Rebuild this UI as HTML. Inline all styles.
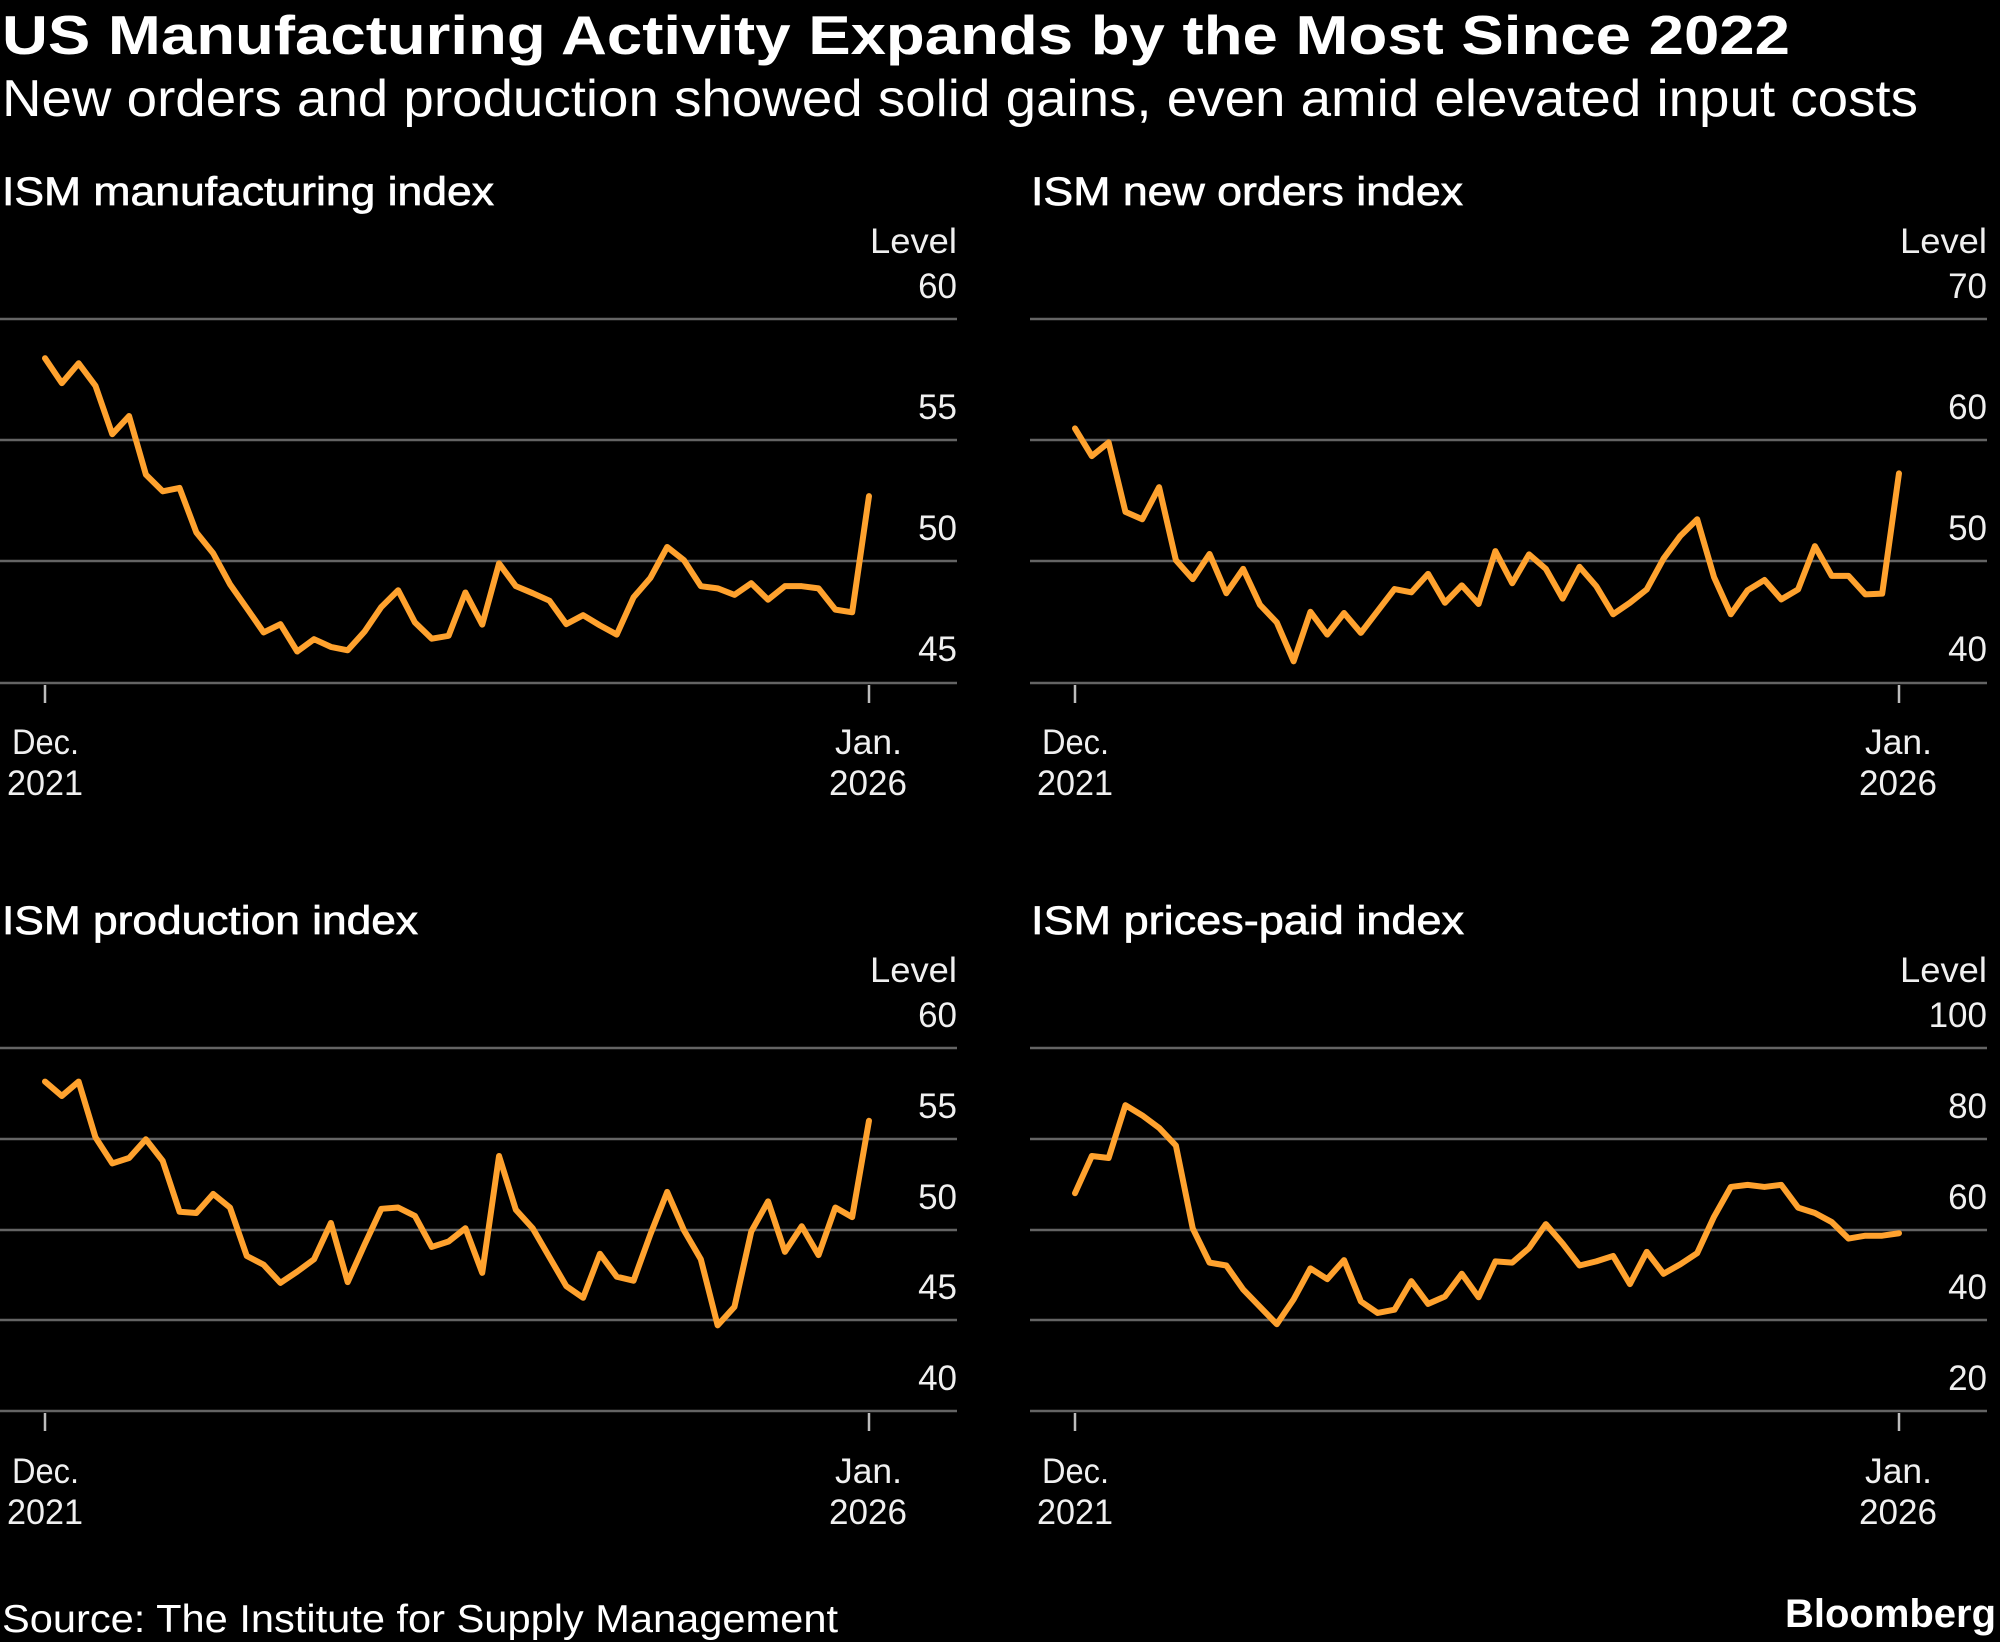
<!DOCTYPE html>
<html>
<head>
<meta charset="utf-8">
<style>
html,body{margin:0;padding:0;background:#000;}
svg{display:block}
text{font-family:"Liberation Sans",Arial,sans-serif;fill:#fff;}
.lbl{font-size:35px;fill:#f0f0f0;}
.pt{font-size:40px;stroke:#fff;stroke-width:0.7px;}
.grid{stroke:#646464;stroke-width:2.5;}
.tick{stroke:#bdbdbd;stroke-width:2.5;}
.ser{fill:none;stroke:#ffa22e;stroke-width:6;stroke-linejoin:round;stroke-linecap:round;}
</style>
</head>
<body>
<svg width="2000" height="1642" viewBox="0 0 2000 1642" xmlns="http://www.w3.org/2000/svg">
<rect x="0" y="0" width="2000" height="1642" fill="#000"/>

<!-- Headline -->
<text x="2" y="54" font-size="55" font-weight="bold" textLength="1788" lengthAdjust="spacingAndGlyphs">US Manufacturing Activity Expands by the Most Since 2022</text>
<text x="2" y="116" font-size="52" textLength="1916" lengthAdjust="spacingAndGlyphs">New orders and production showed solid gains, even amid elevated input costs</text>

<!-- Panel titles -->
<text class="pt" x="2" y="205" textLength="492" lengthAdjust="spacingAndGlyphs">ISM manufacturing index</text>
<text class="pt" x="1031" y="205" textLength="432" lengthAdjust="spacingAndGlyphs">ISM new orders index</text>
<text class="pt" x="2" y="934" textLength="416" lengthAdjust="spacingAndGlyphs">ISM production index</text>
<text class="pt" x="1031" y="934" textLength="433" lengthAdjust="spacingAndGlyphs">ISM prices-paid index</text>

<!-- ===== Top-left: manufacturing ===== -->
<g>
<line class="grid" x1="0" y1="319" x2="957" y2="319"/>
<line class="grid" x1="0" y1="440" x2="957" y2="440"/>
<line class="grid" x1="0" y1="561" x2="957" y2="561"/>
<line class="grid" x1="0" y1="683" x2="957" y2="683"/>
<line class="tick" x1="45" y1="685" x2="45" y2="703"/>
<line class="tick" x1="869" y1="685" x2="869" y2="703"/>
<text class="lbl" x="870" y="253" textLength="87" lengthAdjust="spacingAndGlyphs">Level</text>
<text class="lbl" x="957" y="298" text-anchor="end">60</text>
<text class="lbl" x="957" y="419" text-anchor="end">55</text>
<text class="lbl" x="957" y="540" text-anchor="end">50</text>
<text class="lbl" x="957" y="661" text-anchor="end">45</text>
<text class="lbl" x="12" y="754" textLength="67" lengthAdjust="spacingAndGlyphs">Dec.</text>
<text class="lbl" x="7" y="795" textLength="76" lengthAdjust="spacingAndGlyphs">2021</text>
<text class="lbl" x="835" y="754" textLength="67" lengthAdjust="spacingAndGlyphs">Jan.</text>
<text class="lbl" x="829" y="795" textLength="78" lengthAdjust="spacingAndGlyphs">2026</text>
<g transform="translate(45,319) scale(16.816,24.2)">
<polyline class="ser" vector-effect="non-scaling-stroke" points="0,1.62 1,2.65 2,1.83 3,2.76 4,4.76 5,4.01 6,6.43 7,7.12 8,6.98 9,8.82 10,9.68 11,10.96 12,11.95 13,12.95 14,12.61 15,13.74 16,13.23 17,13.55 18,13.69 19,12.92 20,11.9 21,11.21 22,12.54 23,13.21 24,13.09 25,11.3 26,12.63 27,10.1 28,11.04 29,11.33 30,11.64 31,12.61 32,12.24 33,12.66 34,13.04 35,11.5 36,10.7 37,9.42 38,9.97 39,11.04 40,11.13 41,11.4 42,10.92 43,11.6 44,11.04 45,11.04 46,11.13 47,12.01 48,12.12 49,7.32"/>
</g>
</g>

<!-- ===== Top-right: new orders ===== -->
<g>
<line class="grid" x1="1030" y1="319" x2="1987" y2="319"/>
<line class="grid" x1="1030" y1="440" x2="1987" y2="440"/>
<line class="grid" x1="1030" y1="561" x2="1987" y2="561"/>
<line class="grid" x1="1030" y1="683" x2="1987" y2="683"/>
<line class="tick" x1="1075" y1="685" x2="1075" y2="703"/>
<line class="tick" x1="1899" y1="685" x2="1899" y2="703"/>
<text class="lbl" x="1900" y="253" textLength="87" lengthAdjust="spacingAndGlyphs">Level</text>
<text class="lbl" x="1987" y="298" text-anchor="end">70</text>
<text class="lbl" x="1987" y="419" text-anchor="end">60</text>
<text class="lbl" x="1987" y="540" text-anchor="end">50</text>
<text class="lbl" x="1987" y="661" text-anchor="end">40</text>
<text class="lbl" x="1042" y="754" textLength="67" lengthAdjust="spacingAndGlyphs">Dec.</text>
<text class="lbl" x="1037" y="795" textLength="76" lengthAdjust="spacingAndGlyphs">2021</text>
<text class="lbl" x="1865" y="754" textLength="67" lengthAdjust="spacingAndGlyphs">Jan.</text>
<text class="lbl" x="1859" y="795" textLength="78" lengthAdjust="spacingAndGlyphs">2026</text>
<g transform="translate(1075,319) scale(16.816,12.1)">
<polyline class="ser" vector-effect="non-scaling-stroke" points="0,9.04 1,11.33 2,10.2 3,15.94 4,16.55 5,13.9 6,19.93 7,21.5 8,19.42 9,22.66 10,20.65 11,23.62 12,25.08 13,28.29 14,24.2 15,26.08 16,24.3 17,25.94 18,24.13 19,22.32 20,22.59 21,21.06 22,23.45 23,22.01 24,23.55 25,19.18 26,21.84 27,19.45 28,20.65 29,23.11 30,20.48 31,22.08 32,24.4 33,23.45 34,22.35 35,19.8 36,17.92 37,16.55 38,21.33 39,24.4 40,22.42 41,21.57 42,23.17 43,22.35 44,18.77 45,21.23 46,21.23 47,22.76 48,22.7 49,12.76"/>
</g>
</g>

<!-- ===== Bottom-left: production ===== -->
<g>
<line class="grid" x1="0" y1="1048" x2="957" y2="1048"/>
<line class="grid" x1="0" y1="1139" x2="957" y2="1139"/>
<line class="grid" x1="0" y1="1230" x2="957" y2="1230"/>
<line class="grid" x1="0" y1="1320" x2="957" y2="1320"/>
<line class="grid" x1="0" y1="1411" x2="957" y2="1411"/>
<line class="tick" x1="45" y1="1413" x2="45" y2="1431"/>
<line class="tick" x1="869" y1="1413" x2="869" y2="1431"/>
<text class="lbl" x="870" y="982" textLength="87" lengthAdjust="spacingAndGlyphs">Level</text>
<text class="lbl" x="957" y="1027" text-anchor="end">60</text>
<text class="lbl" x="957" y="1118" text-anchor="end">55</text>
<text class="lbl" x="957" y="1209" text-anchor="end">50</text>
<text class="lbl" x="957" y="1299" text-anchor="end">45</text>
<text class="lbl" x="957" y="1390" text-anchor="end">40</text>
<text class="lbl" x="12" y="1483" textLength="67" lengthAdjust="spacingAndGlyphs">Dec.</text>
<text class="lbl" x="7" y="1524" textLength="76" lengthAdjust="spacingAndGlyphs">2021</text>
<text class="lbl" x="835" y="1483" textLength="67" lengthAdjust="spacingAndGlyphs">Jan.</text>
<text class="lbl" x="829" y="1524" textLength="78" lengthAdjust="spacingAndGlyphs">2026</text>
<g transform="translate(45,1048) scale(16.816,18.15)">
<polyline class="ser" vector-effect="non-scaling-stroke" points="0,1.85 1,2.64 2,1.85 3,4.92 4,6.36 5,6.06 6,5.03 7,6.22 8,9.02 9,9.09 10,8.04 11,8.79 12,11.46 13,11.94 14,12.94 15,12.32 16,11.64 17,9.64 18,12.9 19,10.84 20,8.86 21,8.79 22,9.25 23,10.96 24,10.66 25,9.93 26,12.39 27,5.95 28,8.91 29,9.93 30,11.53 31,13.12 32,13.76 33,11.34 34,12.6 35,12.82 36,10.27 37,7.93 38,10.05 39,11.64 40,15.28 41,14.26 42,10.11 43,8.45 44,11.23 45,9.82 46,11.41 47,8.79 48,9.32 49,4.01"/>
</g>
</g>

<!-- ===== Bottom-right: prices paid ===== -->
<g>
<line class="grid" x1="1030" y1="1048" x2="1987" y2="1048"/>
<line class="grid" x1="1030" y1="1139" x2="1987" y2="1139"/>
<line class="grid" x1="1030" y1="1230" x2="1987" y2="1230"/>
<line class="grid" x1="1030" y1="1320" x2="1987" y2="1320"/>
<line class="grid" x1="1030" y1="1411" x2="1987" y2="1411"/>
<line class="tick" x1="1075" y1="1413" x2="1075" y2="1431"/>
<line class="tick" x1="1899" y1="1413" x2="1899" y2="1431"/>
<text class="lbl" x="1900" y="982" textLength="87" lengthAdjust="spacingAndGlyphs">Level</text>
<text class="lbl" x="1987" y="1027" text-anchor="end">100</text>
<text class="lbl" x="1987" y="1118" text-anchor="end">80</text>
<text class="lbl" x="1987" y="1209" text-anchor="end">60</text>
<text class="lbl" x="1987" y="1299" text-anchor="end">40</text>
<text class="lbl" x="1987" y="1390" text-anchor="end">20</text>
<text class="lbl" x="1042" y="1483" textLength="67" lengthAdjust="spacingAndGlyphs">Dec.</text>
<text class="lbl" x="1037" y="1524" textLength="76" lengthAdjust="spacingAndGlyphs">2021</text>
<text class="lbl" x="1865" y="1483" textLength="67" lengthAdjust="spacingAndGlyphs">Jan.</text>
<text class="lbl" x="1859" y="1524" textLength="78" lengthAdjust="spacingAndGlyphs">2026</text>
<g transform="translate(1075,1048) scale(16.816,4.5375)">
<polyline class="ser" vector-effect="non-scaling-stroke" points="0,32 1,23.8 2,24.24 3,12.6 4,14.85 5,17.6 6,21.5 7,39.73 8,47.3 9,47.93 10,53.21 11,57.04 12,60.87 13,55.4 14,48.56 15,50.93 16,46.74 17,55.85 18,58.4 19,57.68 20,51.39 21,56.4 22,54.76 23,49.75 24,54.94 25,47.02 26,47.3 27,44.1 28,38.82 29,43.1 30,47.93 31,47.02 32,45.83 33,52.03 34,44.92 35,49.75 36,47.65 37,45.2 38,37.2 39,30.62 40,30.16 41,30.62 42,30.16 43,35.17 44,36.36 45,38.36 46,42 47,41.37 48,41.37 49,40.82"/>
</g>
</g>

<!-- Footer -->
<text x="2" y="1632" font-size="39" textLength="836" lengthAdjust="spacingAndGlyphs" fill="#f0f0f0">Source: The Institute for Supply Management</text>
<text x="1785" y="1627" font-size="40" font-weight="bold" textLength="211" lengthAdjust="spacingAndGlyphs">Bloomberg</text>
</svg>
</body>
</html>
